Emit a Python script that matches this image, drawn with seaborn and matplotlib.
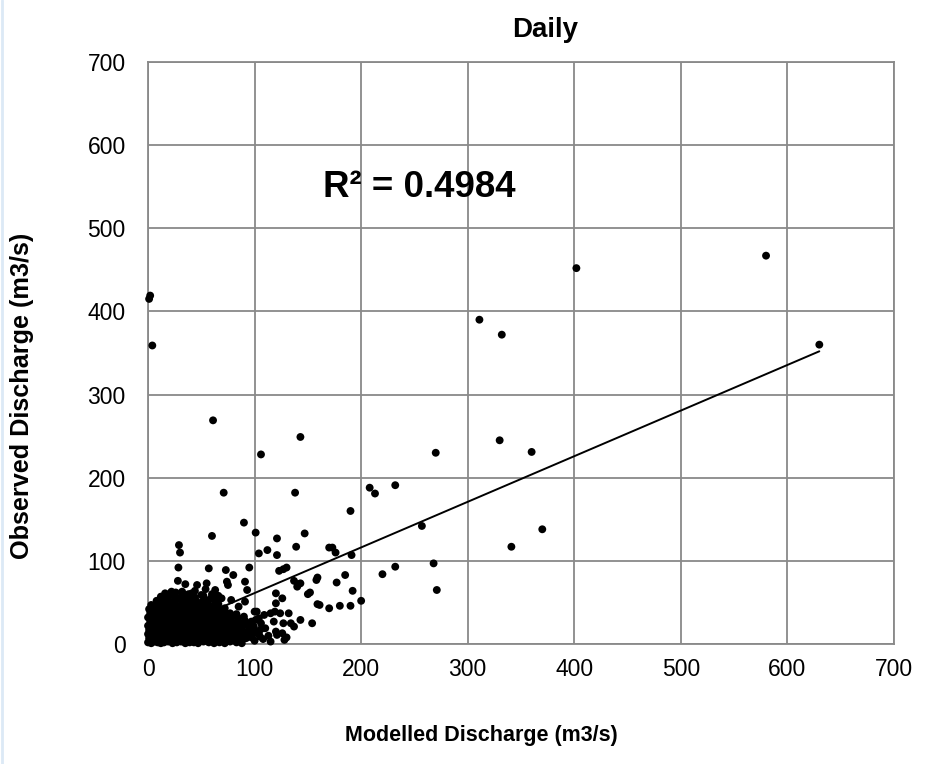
import matplotlib
matplotlib.use("Agg")
import matplotlib.pyplot as plt
import seaborn as sns
import pandas as pd
from matplotlib.lines import Line2D

# dense cluster near the origin, read row by row (modelled, observed)
core_mod = [
    0, 3, 6, 9, 12, 15, 19, 23, 27, 31, 35, 39, 43, 47, 52, 57, 62, 67, 72, 77, 83, 88,
    1, 4, 7, 10, 14, 17, 21, 25, 29, 33, 38, 42, 46, 51, 55, 60, 65, 70, 75, 80, 86, 92, 97,
    0, 3, 6, 9, 13, 16, 20, 24, 28, 32, 36, 41, 45, 49, 54, 58, 63, 68, 73, 78, 84, 90, 96, 102,
    1, 5, 8, 12, 15, 19, 23, 27, 31, 35, 39, 44, 48, 53, 57, 62, 67, 72, 77, 82, 88, 94, 100, 106,
    0, 3, 7, 10, 14, 18, 22, 26, 30, 34, 38, 43, 47, 52, 56, 61, 66, 71, 76, 81, 87, 93, 99,
    2, 5, 9, 12, 16, 20, 24, 28, 32, 36, 41, 45, 50, 54, 59, 64, 69, 74, 79, 85, 91, 97,
    0, 4, 7, 11, 15, 19, 23, 27, 31, 35, 40, 44, 49, 53, 58, 63, 68, 73, 78, 84, 90,
    2, 6, 10, 14, 18, 22, 26, 30, 34, 39, 43, 48, 52, 57, 62, 67, 72, 77, 83,
    1, 5, 9, 13, 17, 21, 25, 29, 34, 38, 43, 47, 52, 57, 62, 67, 72,
    3, 8, 12, 17, 22, 27, 31, 36, 41, 46, 51, 56, 61, 66,
    10, 15, 20, 25, 30, 35, 40, 45, 51, 57, 63,
    14, 19, 26, 32, 38, 44, 52, 60,
]
core_obs = [
    2, 1, 3, 2, 1, 2, 3, 1, 2, 3, 1, 2, 2, 1, 3, 2, 1, 2, 1, 3, 2, 1,
    7, 6, 8, 7, 6, 8, 7, 6, 7, 8, 6, 7, 8, 7, 6, 7, 8, 6, 7, 8, 6, 7, 8,
    12, 11, 13, 12, 11, 13, 12, 12, 11, 13, 12, 11, 13, 12, 11, 12, 13, 11, 12, 13, 12, 11, 12, 13,
    17, 18, 16, 17, 18, 16, 17, 18, 16, 17, 18, 17, 16, 18, 17, 16, 18, 17, 16, 17, 18, 16, 17, 18,
    22, 23, 21, 22, 23, 21, 22, 23, 22, 21, 23, 22, 21, 22, 23, 22, 21, 23, 22, 21, 22, 23, 21,
    27, 28, 26, 27, 28, 27, 26, 28, 27, 26, 28, 27, 26, 28, 27, 26, 28, 27, 26, 27, 28, 27,
    32, 33, 31, 32, 33, 31, 32, 33, 31, 32, 33, 32, 31, 33, 32, 31, 33, 32, 31, 32, 33,
    37, 38, 36, 37, 38, 36, 37, 38, 36, 37, 38, 37, 36, 38, 37, 36, 38, 37, 36,
    42, 43, 41, 42, 43, 41, 42, 43, 41, 42, 43, 42, 41, 43, 42, 41, 43,
    47, 48, 46, 47, 48, 46, 47, 48, 46, 47, 48, 47, 46, 48,
    52, 53, 51, 52, 54, 51, 53, 52, 51, 53, 52,
    57, 58, 56, 58, 57, 56, 58, 57,
]

# ragged top edge of the cluster
edge_mod = [28.5, 57, 73, 95, 80, 28, 35, 46, 55, 74, 75, 91, 93, 63, 54,
            16, 22, 32, 41, 50, 69, 78, 91, 85, 100, 104, 97,
            8, 12, 20, 26, 38, 44, 60, 66]
edge_obs = [92, 91, 89, 92, 83, 76, 72, 71, 73, 75, 71, 75, 65, 65, 66,
            61, 63, 63, 61, 59, 55, 53, 51, 45, 39, 31, 21,
            52, 57, 58, 62, 60, 64, 60, 58]

# tail of the cluster, 95-200 m3/s modelled
tail_mod = [102, 109, 101, 106, 99, 110, 104, 115, 118, 124, 127, 132, 134, 137, 143,
            120, 126, 121, 105, 154, 159, 170, 180, 190, 161, 120, 126, 120, 119, 137,
            141, 140, 100, 108, 115, 128, 113, 130]
tail_obs = [39, 35, 29, 25, 21, 19, 13, 37, 27, 37, 25, 37, 25, 21, 29,
            15, 13, 11, 9, 25, 48, 43, 46, 46, 47, 61, 55, 49, 39, 76,
            72, 69, 4, 6, 3, 5, 10, 8]

# scattered points above the cluster
high_mod = [2, 1, 4, 61, 106, 143, 71, 138, 90, 101, 60, 121, 29, 30, 139,
            104, 112, 121, 123, 127, 130, 147, 190, 208, 213, 232, 257, 270, 311, 332,
            402, 580, 630, 330, 360, 370, 341, 170, 173, 176, 191, 268, 232, 220, 185,
            159, 158, 177, 143, 152, 150, 192, 271, 200]
high_obs = [419, 415, 359, 269, 228, 249, 182, 182, 146, 134, 130, 127, 119, 110, 117,
            109, 113, 107, 88, 90, 92, 133, 160, 188, 181, 191, 142, 230, 390, 372,
            452, 467, 360, 245, 231, 138, 117, 116, 116, 110, 107, 97, 93, 84, 83,
            80, 77, 74, 73, 62, 60, 64, 65, 52]

# linear trendline end points
trend_mod = [0, 630]
trend_obs = [6.5, 352]

ticks = [0, 100, 200, 300, 400, 500, 600, 700]

df = pd.DataFrame({
    "modelled": core_mod + edge_mod + tail_mod + high_mod,
    "observed": core_obs + edge_obs + tail_obs + high_obs,
})

sns.set_theme(style="white")
plt.rcParams["font.family"] = ["Liberation Sans", "DejaVu Sans"]
plt.rcParams["text.color"] = "black"
grid_col = "#898989"

fig = plt.figure(figsize=(9.37, 7.64), dpi=100)
ax = fig.add_axes([0.158, 0.157, 0.796, 0.762])

sns.lineplot(x=trend_mod, y=trend_obs, color="black", linewidth=1.4, ax=ax, zorder=2)
sns.scatterplot(data=df, x="modelled", y="observed", color="black", s=32,
                edgecolor="none", linewidth=0, legend=False, ax=ax,
                zorder=3, clip_on=False)

ax.set_xlim(0, 700)
ax.set_ylim(0, 700)
ax.set_xticks(ticks)
ax.set_yticks(ticks)
ax.grid(True, color=grid_col, linewidth=1.3)
ax.set_axisbelow(True)
for sp in ax.spines.values():
    sp.set_color(grid_col)
    sp.set_linewidth(1.3)
ax.tick_params(axis="both", length=6, width=1.3, color=grid_col,
               labelsize=16.5, labelcolor="black")
ax.tick_params(axis="x", pad=4)
ax.tick_params(axis="y", pad=10)
ax.set_xlabel("")
ax.set_ylabel("")

fig.text(545 / 937, 1 - 30 / 764, "Daily", ha="center", va="center",
         fontsize=20, fontweight="bold")
fig.text(481 / 937, 1 - 736 / 764, "Modelled Discharge (m3/s)", ha="center",
         va="center", fontsize=15.5, fontweight="bold")
fig.text(22 / 937, 1 - 396 / 764, "Observed Discharge (m3/s)", ha="center",
         va="center", rotation=90, fontsize=18.2, fontweight="bold")
fig.text(323 / 937, 1 - 197 / 764, "R² = 0.4984", ha="left", va="baseline",
         fontsize=26.5, fontweight="bold")

# faint frame edge on the left of the original picture
fig.add_artist(Line2D([0.002, 0.002], [0, 1], color="#dce9f6", linewidth=2))

fig.savefig("out.png", dpi=100)
